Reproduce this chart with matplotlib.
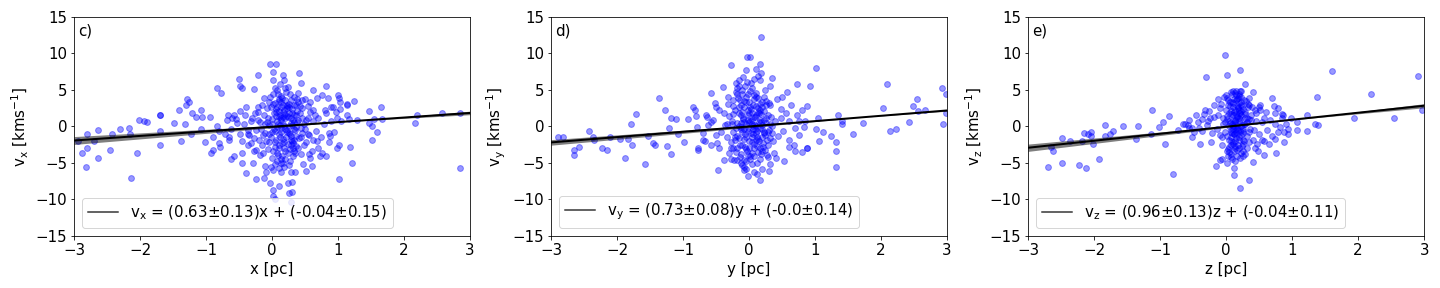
import matplotlib
matplotlib.use("Agg")
import matplotlib.pyplot as plt
import numpy as np

plt.rcParams["font.size"] = 15

# panel c) : (x [pc], v_x)
pointsX = [
    (-2.88, -3.6), (-2.82, -5.5), (-2.80, -1.0), (-2.80, -2.9), (-2.94, -2.0), (-2.69, -2.0),
    (-2.63, -0.55), (-2.63, -4.3), (-2.45, -3.2), (-2.42, -1.1), (-2.30, -0.3), (-2.17, -0.2),
    (-2.14, -7.0), (-2.02, 0.95), (-2.04, -3.7), (-2.15, -1.1), (-1.94, 0.8), (-1.89, 0.6),
    (-1.69, 1.6), (-1.69, 1.5), (-1.69, -0.6), (-1.69, -2.6), (-1.48, 0.5), (-1.38, -2.0),
    (-1.41, 2.3), (-1.31, 2.9), (-1.29, 3.8), (-1.26, 3.3), (-1.32, 0.35), (-1.23, -1.0),
    (-1.21, 1.8), (-1.15, 1.3), (-1.08, 2.2), (-1.06, 1.3), (-1.08, -0.3), (-1.02, -2.1),
    (-0.94, 1.3), (-0.92, -3.7), (-0.89, -3.2), (-0.90, -1.4), (-0.83, 5.2), (-0.78, 4.6),
    (-0.83, 0.05), (-0.80, -2.3), (-0.79, -2.8), (-0.80, -0.6), (-0.66, 1.5), (-0.65, -1.5),
    (-0.65, -1.8), (-0.62, -4.5), (-0.60, 1.2), (-0.57, -4.1), (-0.54, 1.0), (-0.50, 6.5),
    (-0.49, 5.6), (-0.46, 5.3), (-0.49, 2.1), (-0.46, -3.6), (-0.45, -5.0), (-0.41, 1.5),
    (-0.39, -6.4), (-0.37, -2.6), (-0.37, -1.1), (-0.29, -5.0), (-0.27, 5.1), (-0.24, -7.2),
    (-0.22, 7.0), (-0.24, -3.2), (-0.22, 2.7), (-0.14, -3.6), (-0.12, 3.9), (-0.12, -7.0),
    (-0.10, -5.4), (-0.09, -6.2), (-0.03, 8.6), (-0.03, -7.7), (0.01, -8.7), (0.02, -9.5),
    (0.04, -9.9), (0.02, 7.4), (0.02, 6.4), (0.06, 8.6), (0.10, -8.2), (0.11, -5.7),
    (0.13, -5.0), (0.14, -6.3), (0.17, 7.1), (0.18, 6.3), (0.24, -7.7), (0.26, -9.1),
    (0.30, -9.0), (0.29, -10.3), (0.30, -7.6), (0.29, -6.3), (0.35, -6.2), (0.41, 7.3),
    (0.44, 6.0), (0.47, -5.2), (0.51, -6.1), (0.57, -4.3), (0.60, -5.4), (0.62, 5.0),
    (0.68, 3.9), (0.75, 4.3), (0.72, -4.1), (0.80, 2.3), (0.82, 5.6), (0.82, -4.1),
    (0.85, 3.9), (0.90, 2.6), (0.92, 2.6), (0.86, -0.9), (0.88, -1.3), (0.97, 2.0),
    (0.98, -2.9), (1.00, 4.3), (1.02, 3.9), (1.03, 3.3), (1.02, -2.5), (1.02, -7.2),
    (1.03, 2.4), (1.05, 0.7), (1.13, 3.1), (1.14, 2.9), (1.13, 1.6), (1.17, 1.0),
    (1.18, -2.8), (1.21, -5.0), (1.24, 3.5), (1.28, 0.9), (1.47, 2.1), (1.47, 0.5),
    (1.52, 0.05), (1.51, -1.8), (1.55, 1.0), (1.59, -0.7), (1.65, 2.7), (1.66, 1.0),
    (2.16, 0.5), (2.20, 1.5), (2.58, 1.9), (2.84, -5.7), (2.85, 1.9),
    (-0.30, 1.2), (-0.25, -0.5), (-0.22, 2.0), (-0.20, -1.8), (-0.18, 0.6), (-0.15, 3.0),
    (-0.15, -2.6), (-0.12, 1.5), (-0.10, -0.9), (-0.08, 2.5), (-0.06, -3.1), (-0.05, 0.2),
    (-0.03, 4.0), (-0.02, -1.5), (0.00, 1.0), (0.00, -4.3), (0.02, 3.1), (0.03, -0.4),
    (0.04, 5.2), (0.05, -2.2), (0.06, 2.0), (0.07, -3.6), (0.08, 0.7), (0.09, 4.4),
    (0.10, -1.1), (0.10, 3.5), (0.11, -2.9), (0.12, 1.6), (0.13, -0.2), (0.14, 2.6),
    (0.15, -4.0), (0.15, 3.9), (0.16, 0.4), (0.17, -1.7), (0.18, 2.2), (0.19, -3.3),
    (0.20, 1.1), (0.21, 4.7), (0.22, -0.8), (0.23, 3.0), (0.24, -2.4), (0.25, 0.0),
    (0.26, 1.9), (0.27, -4.8), (0.28, 3.6), (0.29, -1.3), (0.30, 2.4), (0.30, -2.0),
    (0.31, 0.9), (0.32, -3.0), (0.33, 1.5), (0.34, 4.1), (0.35, -0.5), (0.36, 2.9),
    (0.37, -2.7), (0.38, 0.6), (0.40, 3.3), (0.41, -1.6), (0.42, 1.8), (0.44, -3.8),
    (0.45, 2.5), (0.46, -0.9), (0.48, 0.3), (0.50, 3.8), (0.52, -2.2), (0.54, 1.2),
    (0.56, -1.2), (0.58, 2.0), (0.60, -3.3), (0.62, 0.8), (0.65, 1.6), (0.68, -2.0),
    (-0.35, -1.2), (-0.28, -3.4), (-0.40, 2.6), (-0.45, -2.0), (0.05, -5.2), (0.18, -5.6),
    (0.12, 5.8), (0.02, -6.0), (0.24, 5.4), (0.08, -0.1), (0.14, 0.9), (0.20, -0.3),
    (0.26, -0.9), (0.16, 1.3), (0.22, 2.8), (0.18, -2.1), (0.10, 2.1), (0.04, -2.8),
    (0.28, 1.2), (0.34, -1.9), (0.38, 2.1), (0.06, 1.4), (0.12, -1.4), (0.30, 0.2),
    (0.36, -0.1), (0.00, -0.8), (-0.08, 0.6),
    (0.05, 3.2), (0.08, 2.7), (0.11, 3.8), (0.14, 3.3), (0.17, 2.9), (0.20, 3.6),
    (0.23, 2.5), (0.26, 3.1), (0.19, 1.7), (0.13, 1.1), (0.16, 2.0), (0.22, 1.4),
    (0.09, 0.3), (0.03, 1.8), (-0.02, 2.6), (-0.06, 1.2), (0.29, 0.5), (0.33, -0.4),
    (0.27, -1.0), (0.21, -1.5), (0.15, -2.3), (0.10, -2.6), (0.06, -1.9), (0.01, -3.3),
    (-0.04, -2.2), (0.18, -3.0), (0.24, -3.6), (0.29, -2.6), (0.33, -3.4), (0.14, -4.4),
    (0.09, -3.9), (0.20, -4.5), (0.27, -3.1), (0.32, -2.3), (0.31, -4.1), (0.25, -5.3),
    (0.16, -5.0), (0.07, -4.7), (-0.01, -5.5), (0.35, -3.7), (0.40, -2.9), (0.44, -1.5),
    (0.48, -2.6), (0.52, 0.9), (0.55, 2.8), (0.58, 3.4), (0.62, 2.3), (0.66, -0.6),
    (0.70, 1.1), (0.74, -1.4), (0.78, 0.4), (0.82, 1.9), (0.86, -2.1), (0.90, 0.8),
    (0.94, -0.8), (0.98, 1.2), (0.62, -1.8), (0.70, -2.9), (0.76, -3.6), (0.56, -3.8),
    (0.46, 3.6), (0.42, 2.8), (0.38, 3.7), (0.36, 1.6), (0.34, 0.6), (0.30, 1.8),
    (0.26, 2.6), (0.24, 1.3), (0.12, 0.2), (0.04, -0.6), (-0.05, -1.0), (-0.11, 0.4),
    (-0.16, -0.4), (-0.21, 0.9), (-0.26, 1.8), (-0.32, 0.7), (-0.36, -0.5), (-0.42, 0.3),
    (-0.48, -1.0), (-0.53, 0.5), (-0.58, 1.6), (-0.62, -0.3), (-0.68, 0.9), (-0.72, -1.1),
    (-0.32, -2.3), (-0.27, -1.6), (-0.19, -3.9), (-0.14, -1.2), (-0.09, -2.0), (-0.04, 3.4),
    (0.02, 4.5), (0.07, 5.0), (0.13, 4.2), (0.19, 5.2), (0.27, 4.4), (0.33, 3.0),
    (0.39, 4.6), (0.45, 1.1), (0.50, -0.3), (0.54, -1.0), (0.18, 0.0), (0.22, -0.5),
    (0.10, 1.3), (0.14, -0.8), (0.28, -1.8), (0.06, 2.4), (0.00, 0.3), (0.36, -1.3),
    (0.40, 0.9), (0.44, -0.2),
]

# panel d) : (y [pc], v_y)
pointsY = [
    (-2.90, -1.5), (-2.82, -1.5), (-2.65, -3.2), (-2.66, -3.9), (-2.57, -2.8), (-2.43, -0.6),
    (-2.37, -1.4), (-2.35, -1.8), (-2.23, -3.0), (-2.15, -3.2), (-2.10, -1.4), (-1.96, -1.7),
    (-1.88, -4.3), (-1.83, -1.7), (-1.79, 0.4), (-1.77, -2.5), (-1.71, 1.7), (-1.58, -5.2),
    (-1.53, -1.3), (-1.46, -2.3), (-1.43, -2.5), (-1.36, 3.9), (-1.28, 2.2), (-1.25, -2.7),
    (-1.22, -0.2), (-1.19, -3.8), (-1.19, 1.1), (-1.11, 1.0), (-1.08, -1.0), (-0.99, -2.2),
    (-0.93, 1.0), (-0.85, 2.6), (-0.82, 2.3), (-0.80, 1.4), (-0.79, -0.1), (-0.78, -2.9),
    (-0.78, -3.2), (-0.70, -1.8), (-0.67, -2.0), (-0.64, 1.3), (-0.58, 4.6), (-0.57, 0.6),
    (-0.51, 3.2), (-0.50, 2.7), (-0.49, -2.3), (-0.47, -6.0), (-0.45, -3.0), (-0.40, 5.4),
    (-0.38, -4.6), (-0.36, 0.2), (-0.32, 4.0), (-0.28, 8.4), (-0.25, -3.0), (-0.23, -4.6),
    (-0.20, 6.0), (-0.19, 5.2), (-0.16, 6.3), (-0.12, -5.0), (-0.11, -5.3), (-0.08, -6.0),
    (-0.08, -4.6), (-0.05, 7.7), (-0.03, 9.5), (-0.02, -6.8),
    (0.18, 12.3), (0.02, 9.5), (0.16, 8.5), (0.10, 7.9), (0.18, 7.3), (0.32, 5.6),
    (0.07, 6.5), (0.17, 6.3), (0.57, 4.7), (0.50, 4.1), (0.42, 3.8), (0.73, 5.8),
    (0.93, 5.6), (1.02, 8.0), (0.80, 2.2), (0.49, 1.2), (0.60, 0.75), (0.75, 0.75),
    (0.83, -0.07), (0.69, -0.2), (1.01, -0.3), (1.04, 1.1), (1.12, -0.75), (1.06, -2.0),
    (0.88, -2.9), (0.87, -3.0), (0.69, -3.4), (0.60, -2.8), (0.53, -4.7), (0.41, -4.3),
    (0.32, -5.1), (0.30, -6.1), (0.17, -7.3), (0.12, -6.5), (1.24, -1.25), (1.32, -2.2),
    (1.32, -3.3), (1.32, -5.5), (1.35, 1.6), (1.41, 0.7), (1.41, 0.3), (1.58, -1.1),
    (1.73, 0.5), (2.03, 2.5), (2.09, 5.8), (2.13, -0.6), (2.23, -0.35), (2.42, 0.6),
    (2.49, 2.8), (2.54, 3.8), (2.56, 2.1), (2.66, 2.3), (2.92, 5.2), (2.98, 4.4),
    (2.94, 0.3), (2.99, 1.8),
    (-0.30, 1.4), (-0.27, -2.1), (-0.25, 3.6), (-0.24, -0.8), (-0.22, 2.3), (-0.20, -3.5),
    (-0.19, 0.5), (-0.18, 4.4), (-0.16, -1.6), (-0.15, 1.9), (-0.14, -4.2), (-0.13, 3.0),
    (-0.12, -0.3), (-0.11, 5.0), (-0.10, -2.6), (-0.09, 1.1), (-0.08, -5.5), (-0.07, 2.7),
    (-0.06, -1.1), (-0.05, 0.3), (-0.05, 4.1), (-0.04, -3.1), (-0.03, 6.1), (-0.02, -0.6),
    (-0.01, 1.6), (0.00, -2.0), (0.00, 3.3), (0.01, -4.0), (0.02, 0.8), (0.03, 2.4),
    (0.04, -1.4), (0.05, 5.3), (0.05, -3.7), (0.06, 0.0), (0.07, 3.8), (0.08, -2.4),
    (0.09, 1.3), (0.10, -0.9), (0.11, 4.6), (0.12, -5.0), (0.13, 2.0), (0.14, -1.7),
    (0.15, 0.6), (0.16, 3.1), (0.17, -3.0), (0.18, 1.7), (0.19, -0.4), (0.20, 2.6),
    (0.21, -2.3), (0.22, 0.9), (0.24, -1.2), (0.25, 3.5), (0.27, -3.9), (0.28, 1.5),
    (0.30, -0.5), (0.32, 2.9), (0.34, 0.1), (-0.21, -1.9), (-0.17, 3.9), (-0.13, -0.1),
    (-0.09, 1.0), (-0.06, -2.8), (-0.02, 2.2), (0.01, -4.5), (0.04, 0.4), (0.08, 4.3),
    (0.12, -1.5), (0.15, 1.8), (0.19, -3.3), (0.23, -0.7), (0.26, 2.9), (-0.28, -4.4),
    (-0.26, 0.8), (-0.14, -2.6), (-0.04, 3.4), (0.03, -0.9), (0.07, 1.3), (0.11, -1.8),
    (0.14, 2.5), (0.20, 0.2), (0.29, -2.5), (0.35, 6.6), (0.38, -3.7), (-0.33, 0.4),
    (-0.18, -1.3), (-0.08, 0.6), (0.00, 1.9), (0.06, -1.0), (0.10, 0.0), (0.16, -0.2),
    (0.22, 2.1), (0.31, -1.6), (-0.12, 0.5), (-0.01, -0.2), (0.09, -0.3),
    (-0.25, 2.8), (-0.22, -1.4), (-0.20, 4.7), (-0.18, -2.9), (-0.16, 0.1), (-0.14, 3.6),
    (-0.12, -3.8), (-0.10, 2.0), (-0.08, -1.7), (-0.06, 5.6), (-0.04, -4.8), (-0.02, 0.9),
    (0.00, -2.9), (0.02, 4.9), (0.04, -2.2), (0.06, 3.0), (0.08, -4.1), (0.10, 1.6),
    (0.12, -2.7), (0.14, 3.9), (0.16, -4.5), (0.18, 0.6), (0.20, -1.5), (0.22, 4.1),
    (0.24, -3.2), (0.26, 1.2), (0.28, -0.8), (0.30, 3.2), (-0.28, -2.9), (-0.24, 1.7),
    (-0.19, -4.6), (-0.15, 2.6), (-0.11, -0.8), (-0.07, 3.5), (-0.03, -3.4), (0.01, 2.7),
    (0.05, -5.2), (0.09, 0.2), (0.13, -3.5), (0.17, 2.2), (0.21, -2.8), (0.25, 0.5),
    (0.29, -4.2), (0.33, 1.3), (0.36, -2.0), (0.40, 0.8), (0.44, -1.3), (0.48, 2.4),
    (0.52, -0.6), (0.56, 1.9), (0.60, -1.9), (0.64, 3.0), (0.68, -2.5), (0.72, 1.5),
    (0.76, -1.2), (0.80, -3.5), (0.84, 0.7), (0.88, 2.8), (-0.34, -1.5), (-0.38, 1.8),
    (-0.42, -0.7), (-0.46, 2.2), (-0.50, -1.2), (-0.54, 0.9), (-0.58, -2.6), (-0.62, 0.2),
    (-0.66, 1.6), (-0.70, -0.9), (-0.32, 3.1), (-0.30, -3.6), (0.03, 5.9), (-0.09, 6.8),
    (0.13, 6.9), (0.07, -6.3), (-0.05, -5.9), (0.20, -5.8), (0.24, 5.0), (-0.16, 5.5),
    (-0.02, 4.4), (0.06, -0.4), (0.10, 2.8), (0.00, 0.6), (0.04, 1.8), (-0.08, -0.4),
    (0.16, 0.9), (0.12, -0.6), (0.19, 3.4), (-0.13, 1.5), (-0.04, -1.4), (0.22, -0.9),
    (0.08, -2.9), (-0.01, -3.9), (0.27, -1.9), (0.15, -2.0), (0.31, 0.4), (-0.20, -0.2),
    (-0.26, 0.3), (0.35, -0.9), (0.05, 0.9), (0.11, 4.0), (-0.10, 4.5), (0.18, -3.8),
]

# panel e) : (z [pc], v_z)
pointsZ = [
    (-2.70, -5.6), (-2.65, -2.8), (-2.62, -3.4), (-2.49, -5.0), (-2.49, -1.6), (-2.36, -2.0),
    (-2.23, -5.3), (-2.18, -2.0), (-2.15, -0.9), (-2.13, -5.7), (-2.10, -1.07), (-2.05, -0.75),
    (-2.04, -1.35), (-2.01, -2.35), (-1.92, -4.5), (-1.83, 0.16), (-1.83, -1.3), (-1.76, -1.07),
    (-1.72, -0.66), (-1.56, 0.0), (-1.37, -1.76), (-1.33, 0.0), (-1.14, -1.0), (-1.12, 2.2),
    (-1.01, -0.07), (-0.95, 0.57), (-0.93, -2.44), (-0.87, 1.4), (-0.81, -6.55), (-0.73, -0.5),
    (-0.66, 0.34), (-0.58, 0.16), (-0.56, -0.25), (-0.51, -1.44), (-0.48, -0.75), (-0.41, -0.16),
    (-0.39, -2.44), (-0.37, 1.07), (-0.34, 1.76), (-0.31, 6.8), (-0.29, 0.16), (-0.25, 1.1),
    (-0.26, 2.1), (-0.23, -2.1), (-0.18, 3.0), (-0.15, -5.45), (-0.12, 3.7), (-0.07, -4.4),
    (-0.01, 9.8), (0.01, 7.0),
    (0.21, 7.7), (0.28, 5.8), (0.41, 4.7), (0.35, 3.9), (0.50, 2.7), (0.52, 2.3),
    (0.69, 3.9), (0.72, 2.8), (0.60, 2.0), (0.74, 1.9), (0.85, 1.76), (0.85, 1.2),
    (0.98, 1.2), (1.08, 0.66), (1.23, 1.5), (1.38, 4.1), (1.34, 0.4), (1.39, 0.16),
    (1.60, 7.6), (1.94, 1.1), (2.19, 4.5), (2.54, 1.1), (2.91, 6.9), (2.97, 2.2),
    (0.93, -0.3), (1.07, -0.5), (1.23, -0.66), (0.79, -0.75), (0.87, -0.8), (0.74, -1.7),
    (0.88, -2.2), (0.65, -2.35), (0.58, -2.0), (0.75, -3.6), (0.57, -3.9), (0.48, -3.3),
    (0.41, -4.9), (0.35, -7.3), (0.21, -8.5), (0.12, -5.7), (0.12, -6.7), (0.01, -5.0),
    (-0.12, 1.5), (-0.10, -1.2), (-0.08, 3.1), (-0.06, -2.6), (-0.05, 0.4), (-0.03, 4.0),
    (-0.02, -0.8), (0.00, 2.2), (0.01, -3.4), (0.02, 1.0), (0.03, 3.6), (0.04, -1.8),
    (0.05, 0.1), (0.06, 2.8), (0.07, -4.2), (0.08, 1.7), (0.08, -0.5), (0.09, 4.4),
    (0.10, -2.2), (0.10, 0.9), (0.11, 3.2), (0.12, -1.1), (0.12, 2.0), (0.13, -3.0),
    (0.14, 0.5), (0.14, 4.6), (0.15, -1.6), (0.16, 1.3), (0.16, 3.8), (0.17, -0.3),
    (0.18, 2.5), (0.18, -2.5), (0.19, 0.7), (0.20, 4.2), (0.20, -1.4), (0.21, 1.9),
    (0.22, -3.6), (0.23, 3.0), (0.24, 0.2), (0.25, -0.9), (0.26, 2.4), (0.27, -2.0),
    (0.28, 1.1), (0.30, 3.5), (0.31, -1.3), (0.32, 0.6), (0.34, 2.9), (0.36, -0.4),
    (0.38, 1.6), (0.40, -1.9), (0.43, 2.2), (0.46, 0.8), (0.05, -2.8), (0.09, 3.4),
    (0.13, -0.1), (0.17, 1.4), (0.21, 4.8), (0.25, -4.0), (0.29, 0.3), (0.33, 2.6),
    (0.07, -1.5), (0.11, 0.0), (0.15, -0.7), (0.19, 1.8), (0.23, 3.3), (0.03, -3.1),
    (-0.04, 1.2), (0.10, -2.4), (0.14, 0.9), (0.18, 2.7), (0.06, 0.5), (0.12, -1.0),
    (0.16, -0.2), (0.22, 1.6), (0.26, -0.6), (0.02, 3.9), (0.08, -3.8), (0.20, 2.3),
    (0.24, -2.7), (0.11, 0.1), (0.15, 4.3), (-0.09, -4.6), (0.35, 1.0),
    (0.00, 4.3), (0.03, 2.9), (0.05, -3.5), (0.07, 4.7), (0.09, -0.9), (0.11, 2.6),
    (0.13, -2.0), (0.15, 3.6), (0.17, -4.1), (0.19, 1.2), (0.21, -0.6), (0.23, 4.0),
    (0.25, -1.8), (0.27, 0.4), (0.29, 2.0), (0.31, -2.9), (0.02, -1.3), (0.04, 0.7),
    (0.06, 3.3), (0.08, -2.0), (0.10, 1.5), (0.12, -3.3), (0.14, 2.3), (0.16, -1.1),
    (0.18, 3.9), (0.20, -2.9), (0.22, 0.1), (0.24, 2.8), (0.26, -3.4), (0.28, 1.7),
    (-0.02, 0.6), (-0.06, -1.4), (-0.10, 2.5), (-0.14, -0.4), (-0.18, 1.3), (-0.22, -0.9),
    (-0.27, 0.8), (-0.32, 2.3), (-0.36, -0.6), (-0.42, 0.6), (-0.46, 1.6), (-0.52, -0.2),
    (-0.57, 0.9), (-0.62, 0.3), (0.34, -0.8), (0.38, 0.9), (0.42, -0.5), (0.46, 1.9),
    (0.50, -1.1), (0.54, 0.6), (0.58, 1.2), (0.62, -0.5), (0.66, 0.9), (0.70, -1.3),
    (0.74, 0.4), (0.78, 2.5), (0.82, -0.1), (0.86, 1.5), (0.90, 0.3), (0.94, -1.0),
    (0.15, 4.9), (0.19, 4.5), (0.11, 4.9), (0.23, 4.8), (0.09, -4.5), (0.13, -4.8),
    (0.21, -4.3), (0.17, -3.2), (0.07, -2.6), (0.25, -2.4), (0.03, -4.0), (0.29, -3.8),
    (0.33, 3.1), (0.01, 1.4), (0.05, 1.9), (0.09, 0.4), (0.13, 0.8), (0.17, 0.2),
    (0.21, 1.0), (0.25, -0.3), (0.11, -0.3), (0.15, 1.7), (0.19, -1.9), (0.23, -1.2),
    (0.07, -0.8), (0.27, 3.6), (0.31, 1.1), (0.35, -2.2), (0.39, 2.7), (0.43, -3.0),
    (0.47, -2.4), (0.51, 2.9), (0.55, -1.8), (0.12, 3.7), (0.16, 2.8), (0.20, 3.2),
    (0.08, 2.1), (0.14, -2.7), (0.18, -0.5), (0.22, 2.1),
]

points = [pointsX, pointsY, pointsZ]
axisNames = ["x", "y", "z"]
panelLabels = ["c)", "d)", "e)"]
slopes = [0.63, 0.73, 0.96]
slopeErrs = [0.13, 0.08, 0.13]
intercepts = [-0.04, -0.0, -0.04]
interceptErrs = [0.15, 0.14, 0.11]

fig, axes = plt.subplots(1, 3, figsize=(20, 4), dpi=72)
fig.subplots_adjust(left=0.0514, right=0.989, top=0.941, bottom=0.181, wspace=0.2045)

xLine = np.linspace(-3, 3, 100)

for i, ax in enumerate(axes):
    n = axisNames[i]
    pos = [p[0] for p in points[i]]
    vel = [p[1] for p in points[i]]
    ax.scatter(pos, vel, s=34, color="b", alpha=0.4)

    m, dm = slopes[i], slopeErrs[i]
    b, db = intercepts[i], interceptErrs[i]
    lo = (m - dm) * xLine + (b + db)
    hi = (m + dm) * xLine + (b - db)
    ax.fill_between(xLine, lo, hi, color="k", alpha=0.5, lw=0)
    label = r"v$_{\rm %s}$ = (%s$\pm$%s)%s + (%s$\pm$%s)" % (n, m, dm, n, b, db)
    ax.plot(xLine, m * xLine + b, color="k", lw=2, label=label)

    ax.set_xlim(-3, 3)
    ax.set_ylim(-15, 15)
    ax.set_xlabel("%s [pc]" % n)
    ax.set_ylabel(r"v$_{\rm %s}$ [kms$^{-1}$]" % n)
    ax.text(0.01, 0.97, panelLabels[i], transform=ax.transAxes, va="top", ha="left")
    leg = ax.legend(loc="lower left")
    leg.get_lines()[0].set_color("#333333")
    leg.get_lines()[0].set_linewidth(1.5)

plt.savefig("out.png")
